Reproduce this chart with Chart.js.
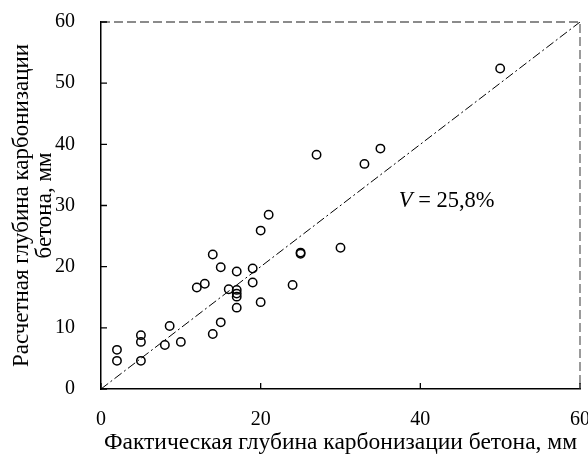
<!DOCTYPE html>
<html>
<head>
<meta charset="utf-8">
<script src="https://cdn.jsdelivr.net/npm/chart.js@4"></script>
<style>
  html, body { margin: 0; padding: 0; background: #fff; }
  #wrap { width: 588px; height: 457px; }
</style>
</head>
<body>
<div id="wrap"><canvas id="carbChart" width="588" height="457"></canvas></div>
<script>
// фактическая и расчетная глубина карбонизации, мм
const actualDepth = [2, 2, 5, 5, 5, 8, 8.6, 10, 12, 13, 14, 14, 15, 15, 16, 17, 17, 17, 17, 17,
                     19, 19, 20, 20, 21, 24, 25, 25, 30, 33, 35, 27, 50];
const calcDepth = [6.4, 4.6, 8.8, 7.7, 4.6, 7.2, 10.3, 7.7, 16.6, 17.2, 22.0, 9.0, 19.9, 10.9, 16.3,
                   19.2, 16.2, 15.6, 15.1, 13.3, 19.7, 17.4, 25.9, 14.2, 28.5, 17.0, 22.3, 22.1,
                   23.1, 36.8, 39.3, 38.3, 52.4];
const lineX = [0, 60];
const lineY = [0, 60];
const xTicks = [0, 20, 40, 60];
const yTicks = [0, 10, 20, 30, 40, 50, 60];
const noteX = 37.3, noteY = 30.8;

const serif = 'Liberation Serif';

const framePlugin = {
    id: 'frame',
    afterDatasetsDraw(chart) {
        const { ctx, chartArea: a, scales: { x, y } } = chart;
        ctx.save();
        // пунктир сверху и справа
        ctx.strokeStyle = '#666';
        ctx.lineWidth = 1.3;
        ctx.setLineDash([9, 4]);
        ctx.beginPath();
        ctx.moveTo(a.left, a.top);
        ctx.lineTo(a.right, a.top);
        ctx.lineTo(a.right, a.bottom);
        ctx.stroke();
        ctx.setLineDash([]);
        // засечки внутрь
        ctx.strokeStyle = '#000';
        ctx.lineWidth = 1.3;
        ctx.beginPath();
        yTicks.forEach(v => {
            const py = y.getPixelForValue(v);
            ctx.moveTo(a.left, py);
            ctx.lineTo(a.left + 6, py);
        });
        xTicks.forEach(v => {
            const px = x.getPixelForValue(v);
            ctx.moveTo(px, a.bottom);
            ctx.lineTo(px, a.bottom - 6);
        });
        ctx.stroke();
        // подпись V
        const tx = x.getPixelForValue(noteX);
        const ty = y.getPixelForValue(noteY);
        ctx.fillStyle = '#000';
        ctx.textBaseline = 'middle';
        ctx.textAlign = 'left';
        ctx.font = 'italic 22.5px "' + serif + '"';
        ctx.fillText('V', tx, ty);
        const w = ctx.measureText('V').width;
        ctx.font = '22.5px "' + serif + '"';
        ctx.fillText(' = 25,8%', tx + w, ty);
        ctx.restore();
    }
};

new Chart(document.getElementById('carbChart').getContext('2d'), {
    type: 'scatter',
    data: {
        datasets: [{
            data: actualDepth.map((v, i) => ({ x: v, y: calcDepth[i] })),
            pointRadius: 4.2,
            pointBorderWidth: 1.5,
            pointBorderColor: '#000',
            pointBackgroundColor: 'rgba(0,0,0,0)',
            pointHoverRadius: 4.2
        }, {
            type: 'line',
            data: lineX.map((v, i) => ({ x: v, y: lineY[i] })),
            borderColor: '#000',
            borderWidth: 1,
            borderDash: [9, 3, 2, 3],
            pointRadius: 0,
            fill: false
        }]
    },
    options: {
        responsive: false,
        animation: false,
        layout: { padding: { left: 0, top: 22, right: 8, bottom: 0 } },
        plugins: { legend: { display: false }, tooltip: { enabled: false } },
        scales: {
            x: {
                type: 'linear',
                min: 0, max: 60,
                afterBuildTicks: s => { s.ticks = xTicks.map(v => ({ value: v })); },
                afterFit: s => { s.height = 68; s.paddingLeft = 0; s.paddingRight = 0; },
                grid: { display: false },
                border: { display: true, color: '#000', width: 1.5 },
                ticks: { color: '#000', font: { family: serif, size: 20 }, padding: 11, maxRotation: 0 },
                title: {
                    display: true,
                    text: 'Фактическая глубина карбонизации бетона, мм',
                    color: '#000',
                    font: { family: serif, size: 23.5, lineHeight: 1.2 },
                    padding: { top: 0, bottom: 0 }
                }
            },
            y: {
                type: 'linear',
                min: 0, max: 60,
                afterBuildTicks: s => { s.ticks = yTicks.map(v => ({ value: v })); },
                afterFit: s => { s.width = 101; s.paddingTop = 0; s.paddingBottom = 0; },
                grid: { display: false },
                border: { display: true, color: '#000', width: 1.5 },
                ticks: { color: '#000', font: { family: serif, size: 20 }, padding: 18 },
                title: {
                    display: true,
                    text: ['Расчетная глубина карбонизации', 'бетона, мм'],
                    color: '#000',
                    font: { family: serif, size: 23, lineHeight: 1.0 },
                    padding: { top: 10, bottom: 0 }
                }
            }
        }
    },
    plugins: [framePlugin]
});
</script>
</body>
</html>
